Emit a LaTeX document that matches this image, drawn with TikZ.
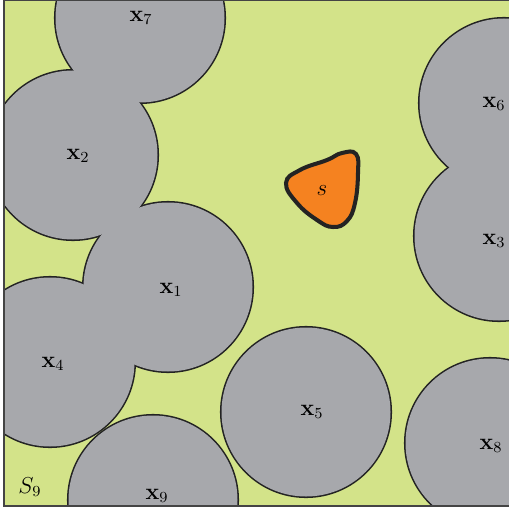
\documentclass[tikz,border=0pt]{standalone}
\usepackage{amsmath,amssymb}
\usepackage{xcolor}
\usepackage{tikz}
\definecolor{freegreen}{RGB}{211,227,137}
\definecolor{obsgray}{RGB}{167,168,172}
\definecolor{setorange}{RGB}{245,130,32}
\definecolor{edgedark}{RGB}{35,35,35}
\newcommand{\obstacles}{140/18, 73/155, 168/287, 50/362, 153/500, 306/412, 490/443, 499/236, 504/103}

\begin{document}
\begin{tikzpicture}[x=0.52pt, y=-0.52pt, font=\fontsize{11.5}{14}\selectfont,
  lbl/.style={inner sep=1pt},
  rim/.style={draw=edgedark, line width=1.6pt},
  blob/.style={draw=edgedark, line width=2.1pt, fill=setorange}]
\useasboundingbox (0,0) rectangle (509,510);
\coordinate (sw) at (4,506);
\coordinate (ne) at (516,0);
\fill[freegreen] (sw) rectangle (ne);
% obstacle union: outer half of the rim survives the fill
\begin{scope}
\clip (sw) rectangle (ne);
\foreach \cx/\cy in \obstacles
  \draw[rim] (\cx,\cy) circle[radius=84.5];
\foreach \cx/\cy in \obstacles
  \fill[obsgray] (\cx,\cy) circle[radius=84.5];
\end{scope}
\draw[edgedark!85, line width=1pt] (sw) rectangle (ne);
\draw[blob] plot[smooth cycle, tension=0.75] coordinates {(286,183) (300,170) (327,160) (342,153) (356,154) (358,173) (355,203) (347,221) (333,227) (317,220) (297,203)};
\node[lbl] (s) at (322,191) {$s$};
\node[lbl] (x7) at (141,18) {$\mathbf{x}_7$};
\node[lbl] (x2) at (78,156) {$\mathbf{x}_2$};
\node[lbl] (x1) at (171,290) {$\mathbf{x}_1$};
\node[lbl] (x4) at (53,364) {$\mathbf{x}_4$};
\node[lbl] (x9) at (157,496) {$\mathbf{x}_9$};
\node[lbl] (x5) at (312,412) {$\mathbf{x}_5$};
\node[lbl] (x8) at (491,446) {$\mathbf{x}_8$};
\node[lbl] (x6) at (494,104) {$\mathbf{x}_6$};
\node[lbl] (x3) at (494,241) {$\mathbf{x}_3$};
\node[lbl] (S9) at (30,487) {$S_9$};
\end{tikzpicture}
\end{document}
